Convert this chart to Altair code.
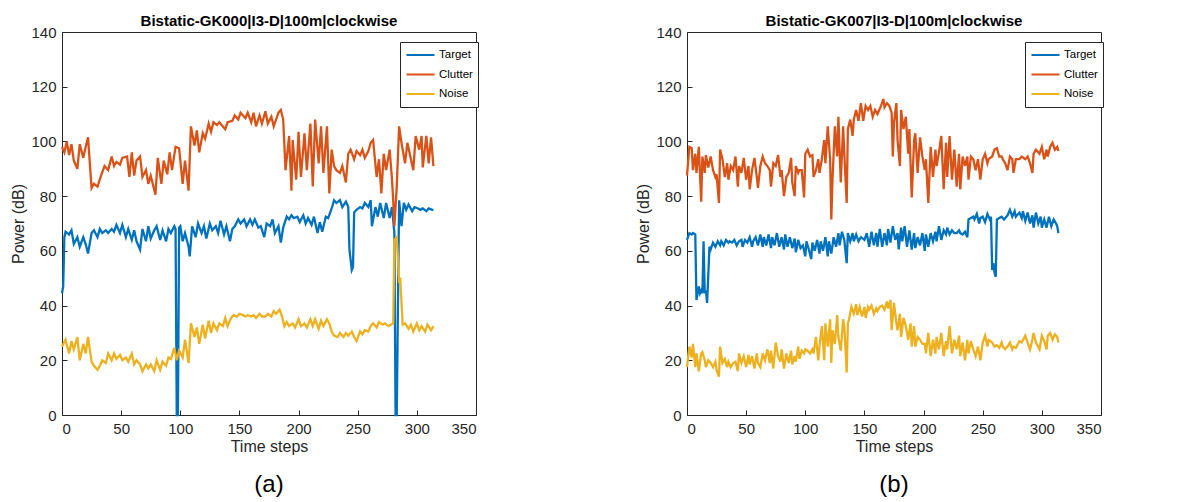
import altair as alt
import pandas as pd

# ---------------- data ----------------
series_names = ["Target", "Clutter", "Noise"]
series_colors = ["#0072BD", "#D95319", "#EDB120"]
x_ticks = [0, 50, 100, 150, 200, 250, 300, 350]
y_ticks = [0, 20, 40, 60, 80, 100, 120, 140]
panel_titles = ["Bistatic-GK000|I3-D|100m|clockwise", "Bistatic-GK007|I3-D|100m|clockwise"]
panel_captions = ["(a)", "(b)"]

# panel (a): (time step, power dB)
a_target = [(0,44.5),(1,47),(2,65),(3,67),(6,66),(8,67.5),(10,62.5),(13,65),(15,61.5),(18,65),(20,62.5),(22,59),(25,66.5),(27,67.5),(30,65),(32,68),(34,66.5),(37,67.5),(39,66.5),(42,68),(44,67),(46,69.5),(49,66.5),(51,69.5),(54,65),(56,68),(59,64),(61,67.5),(63,63.5),(66,60.5),(68,68),(71,63.5),(73,69),(75,64.5),(78,67.5),(80,69),(83,64),(85,67.5),(88,63.5),(90,68),(92,66.5),(95,69),(96,68),(97,0),(98,0),(99,68.5),(100,69),(102,63.5),(104,66.5),(107,61.5),(108,58),(110,69),(113,65),(115,70),(118,66.5),(120,69),(122,64.5),(125,70),(127,67.5),(130,69),(132,66.5),(134,71),(137,66),(139,69),(142,63.5),(144,68),(146,69),(149,71.5),(151,70),(154,71.5),(156,69),(159,71.5),(161,69.5),(163,71.5),(166,68.5),(168,69),(171,65),(173,70),(176,69),(178,71.5),(180,66.5),(183,69),(185,63),(187,68.5),(190,72.5),(192,71.5),(194,73),(196,72),(199,72.5),(201,70.5),(204,73),(206,70),(208,72),(211,69.5),(213,72.5),(216,66.5),(218,70.5),(220,67),(223,72.5),(225,72),(228,75.5),(230,78.5),(232,77.5),(235,78.5),(237,76),(240,78),(242,76),(243,60.5),(245,53),(246,54),(247,74),(249,75),(252,76),(254,75.5),(256,77.5),(259,76),(261,78.5),(262,69),(265,76),(267,72.5),(269,77.5),(272,72),(274,77.5),(277,72),(279,76),(281,66.5),(282,0),(283,0),(285,78.5),(287,69),(289,77.5),(291,75),(293,77),(296,74.5),(298,76),(301,75.5),(303,75),(305,75.5),(308,74.5),(310,75.5),(313,75),(314,75)]
a_clutter = [(0,98),(2,96),(4,100),(6,95),(8,99),(10,93),(13,90),(15,99),(18,94),(20,98),(22,101.5),(25,83),(27,84.5),(30,83.5),(33,87.5),(36,91),(39,89.5),(42,94.5),(44,91),(46,92.5),(49,91.5),(51,94),(55,94.5),(57,87),(59,96),(61,87.5),(63,93),(66,94.5),(68,87),(71,89.5),(73,84.5),(75,87.5),(79,80.5),(81,94),(84,84.5),(86,93),(89,88),(91,96),(93,89.5),(96,98),(99,97.5),(102,84.5),(104,93),(107,82),(109,105.5),(112,98.5),(114,104),(116,96),(119,103),(121,101),(124,106.5),(126,103.5),(128,107),(131,106),(133,107),(136,105.5),(138,104.5),(140,107),(144,107.5),(146,109.5),(149,108),(151,110.5),(155,108.5),(157,110.5),(160,107),(162,110.5),(164,105.5),(167,109.5),(169,106.5),(172,111),(174,106.5),(177,109),(179,105.5),(183,110.5),(185,111.5),(187,108),(189,89.5),(192,102),(194,82),(195,100.5),(198,86),(200,103.5),(202,87),(205,103),(207,89.5),(210,106.5),(212,83.5),(214,108),(217,92),(219,105.5),(221,88.5),(224,105.5),(226,81),(228,97),(230,91),(232,89.5),(235,88.5),(237,91),(240,85),(242,95.5),(244,97),(247,93.5),(249,96.5),(252,95),(254,97),(256,94),(259,96.5),(261,99.5),(263,100.5),(266,87),(268,93.5),(270,81),(272,95.5),(274,89.5),(277,97),(279,86),(280,78.5),(281,69),(283,83.5),(285,105.5),(287,99.5),(290,92),(292,99.5),(295,93.5),(297,89.5),(299,102),(302,97),(304,102),(305,90.5),(308,102),(310,92),(312,101.5),(314,91)]
a_noise = [(0,25),(3,27.5),(6,22.5),(8,27),(10,24),(13,28.5),(15,20),(18,26),(20,22.5),(22,28.5),(25,19.5),(27,18),(30,16.5),(32,18),(34,20),(37,19),(39,22.5),(42,20),(44,22.5),(46,20.5),(49,22),(51,20),(54,21),(56,19.5),(59,22.5),(61,18.5),(63,20),(66,18.5),(68,16),(71,18.5),(73,17),(75,18.5),(78,16),(80,20),(83,16.5),(85,19.5),(88,18),(90,21),(92,20.5),(95,24.5),(97,20),(99,23.5),(102,21),(104,27.5),(107,19),(109,33.5),(112,28.5),(114,32),(116,26),(119,33),(121,28),(124,34.5),(126,30),(128,33.5),(131,31),(133,33.5),(136,32.5),(138,35.5),(140,32.5),(143,35.5),(145,36.5),(148,36),(150,37),(153,36.5),(155,36),(157,36.5),(160,36),(162,36.5),(164,35.5),(167,37),(169,36),(172,36),(174,37),(177,36),(179,38),(181,37),(184,38.5),(186,36),(188,32.5),(190,34),(192,32.5),(195,33.5),(197,32),(200,35),(202,32.5),(205,33.5),(207,32),(210,35),(212,32.5),(214,35),(217,31.5),(219,34.5),(221,32.5),(224,35),(226,33.5),(228,30.5),(230,29),(233,28.5),(235,30),(238,28.5),(240,30),(242,29),(245,30.5),(247,28.5),(249,27),(252,30.5),(254,29.5),(256,31),(259,30.5),(261,32.5),(263,33.5),(266,32),(268,34),(271,33),(273,33.5),(276,32.5),(278,33),(280,33.5),(281,64),(283,65),(285,49),(286,49.5),(288,33),(290,33.5),(293,31.5),(295,33),(297,30.5),(300,33.5),(302,31),(304,32.5),(307,30.5),(309,33),(312,31),(314,32.5)]

# panel (b): (time step, power dB)
b_target = [(0,64),(2,66.5),(4,66),(5,66.5),(7,66),(8,42),(10,47),(11,44.5),(12,45.5),(13,44.5),(14,63.5),(15,44.5),(16,45.5),(17,41),(19,61.5),(20,60.5),(22,63),(24,61.5),(26,63.5),(28,62),(29,63.5),(31,62),(33,64),(35,63),(36,63.5),(38,63),(40,64),(42,62),(44,63.5),(46,64),(47,61.5),(49,64),(51,63),(53,65),(55,61.5),(56,63.5),(58,65),(60,62),(62,66),(64,61.5),(65,65),(67,62),(69,66),(71,61),(72,65),(74,62),(76,66.5),(78,61.5),(80,65),(82,60.5),(83,66),(85,61.5),(87,65),(89,61),(91,64.5),(92,59.5),(94,64),(96,61),(98,62),(100,58),(101,63.5),(103,60.5),(105,57),(106,63),(108,60),(110,64),(112,59),(113,63.5),(115,60),(117,65),(119,58),(120,63.5),(122,59),(124,65),(126,61.5),(128,66.5),(129,62),(131,67),(133,64),(135,55.5),(136,66.5),(138,63.5),(140,66.5),(141,63.5),(143,66),(145,63.5),(147,65),(150,64),(152,66.5),(154,61.5),(156,67),(158,62),(160,66.5),(161,61.5),(163,68),(165,61.5),(167,66.5),(169,62),(170,68),(172,63),(174,69),(176,64),(178,66.5),(179,60.5),(181,68.5),(182,63.5),(184,69),(186,61.5),(188,67.5),(190,60.5),(192,66.5),(193,61),(195,65),(197,62),(199,66.5),(201,60),(202,66),(204,61.5),(206,66.5),(208,63.5),(210,67),(211,63.5),(213,69),(215,64),(217,67.5),(219,66),(220,68.5),(222,66),(224,67.5),(226,66.5),(228,66.5),(230,67.5),(231,66.5),(233,66),(235,67),(237,65),(238,71.5),(240,72),(242,72.5),(243,71.5),(245,73.5),(247,70),(248,72),(250,72.5),(252,70.5),(254,73.5),(256,71.5),(257,72.5),(258,53),(259,55.5),(260,52),(261,50.5),(262,71.5),(264,72),(266,72.5),(268,71.5),(270,72.5),(271,73),(273,75),(275,72.5),(277,74.5),(278,72.5),(281,74),(283,72),(284,74.5),(286,71),(288,74),(290,70),(292,73),(293,68.5),(295,74),(297,70),(299,72.5),(300,68.5),(302,71.5),(304,68.5),(306,72.5),(308,69),(310,71.5),(312,70),(313,69),(314,66.5)]
b_clutter = [(0,87.5),(2,98),(4,97.5),(5,89.5),(7,95.5),(8,88.5),(10,98),(12,78),(13,94.5),(15,88.5),(16,95),(18,90.5),(20,94.5),(22,89.5),(24,87),(25,88),(27,77.5),(28,97),(30,93.5),(32,87),(34,92),(35,86),(37,91),(39,89.5),(41,94.5),(43,83.5),(44,91),(46,88.5),(48,94),(50,86),(52,91),(53,82.5),(55,89.5),(57,94),(59,87),(60,83),(62,91),(64,94.5),(66,92),(68,91),(70,89.5),(71,83.5),(73,92),(75,91),(77,95),(79,87),(80,89.5),(82,80),(84,87),(86,88.5),(88,94),(89,85),(91,80),(92,91),(94,88.5),(95,89.5),(97,89.5),(99,79.5),(100,95.5),(102,97),(104,94.5),(106,95),(107,87),(109,89.5),(111,93.5),(112,88.5),(114,93.5),(116,100.5),(117,92),(119,105.5),(121,93.5),(122,71.5),(123,86),(125,105.5),(127,94.5),(128,109),(130,85),(132,105.5),(133,95.5),(135,77.5),(136,104.5),(138,108),(140,102),(141,108),(143,111.5),(145,107.5),(147,114),(149,107.5),(151,113),(153,111.5),(155,113),(157,109),(159,111.5),(161,110),(164,113),(166,115.5),(167,112.5),(169,114),(171,113),(173,110.5),(174,94.5),(175,107),(177,114),(178,100.5),(180,91),(181,111.5),(183,104.5),(185,109),(187,95.5),(188,104.5),(190,79.5),(192,100.5),(193,103),(195,88.5),(197,101.5),(199,94.5),(201,89.5),(202,93.5),(204,77.5),(206,98),(208,87),(210,97),(211,91),(213,96),(215,102),(217,82.5),(219,99.5),(220,87),(222,102),(224,86),(226,97),(228,83.5),(230,95.5),(231,82.5),(233,94.5),(235,91),(237,94.5),(238,86),(240,94.5),(242,93.5),(244,89.5),(246,93.5),(248,86),(250,93.5),(252,95.5),(254,92),(255,93.5),(258,94.5),(260,97),(262,97.5),(264,94.5),(266,94.5),(267,93.5),(269,92),(271,89.5),(273,94.5),(275,93.5),(276,88.5),(278,93.5),(281,93.5),(283,94.5),(286,93.5),(288,94.5),(290,92),(292,88.5),(293,95.5),(295,97),(298,95.5),(300,98),(302,93.5),(304,97),(305,94.5),(307,98),(309,99.5),(311,97),(313,98),(314,96.5)]
b_noise = [(0,17.5),(2,25),(4,21),(5,26),(7,17.5),(8,22.5),(10,16),(12,22.5),(13,23),(15,20),(16,17.5),(18,20),(20,19),(22,17.5),(24,19.5),(25,16.5),(27,14),(28,25),(30,19),(32,20.5),(34,17.5),(35,19.5),(37,17.5),(39,19),(41,19.5),(43,16),(44,22.5),(46,19),(48,21.5),(50,17.5),(52,22),(53,18.5),(55,21.5),(57,17),(59,22.5),(60,19),(62,17.5),(64,22.5),(66,20),(68,24),(70,19),(71,23.5),(73,17),(75,26.5),(77,21.5),(79,19.5),(80,24),(82,17),(84,22.5),(86,19),(88,23.5),(89,18.5),(91,21.5),(92,19.5),(94,25),(95,20.5),(97,23.5),(99,22.5),(100,24),(102,23.5),(104,22.5),(106,24),(107,22.5),(109,28.5),(111,20),(112,25),(114,32.5),(116,20),(117,33.5),(119,25),(121,35),(122,19),(123,31),(125,26),(127,36.5),(128,28.5),(130,23.5),(132,35),(133,32.5),(135,15.5),(136,33.5),(137,35),(139,39.5),(141,37),(143,40.5),(144,36.5),(146,39.5),(148,36),(150,39.5),(151,35.5),(153,39.5),(154,38.5),(156,40),(158,37),(160,39),(161,38),(163,39.5),(165,40),(167,38.5),(169,41.5),(170,39),(172,42),(173,31),(175,41),(177,33.5),(178,31),(180,37),(181,28.5),(183,35.5),(185,32.5),(187,27.5),(189,33.5),(190,25),(192,32.5),(193,25),(195,28.5),(197,27.5),(199,26),(201,26),(202,22.5),(204,30),(206,21.5),(208,27.5),(210,22.5),(211,28.5),(213,24),(215,30),(217,21.5),(219,27),(220,24),(222,32.5),(224,22.5),(226,27.5),(228,24),(230,29),(231,21.5),(233,26.5),(235,20),(237,27.5),(238,22.5),(240,27),(242,24),(244,21.5),(246,25),(248,20),(250,26.5),(252,29),(254,25),(255,27.5),(258,26.5),(260,25),(262,25.5),(264,24.5),(266,26.5),(267,25),(269,24),(271,25),(273,26.5),(275,24),(276,25),(278,24.5),(281,27),(283,26.5),(286,29),(288,26.5),(290,24),(292,27.5),(293,30),(295,26.5),(298,24),(300,29),(302,27),(304,24),(305,29),(307,30),(309,27.5),(311,29.5),(313,28.5),(314,26.5)]

# ---------------- chart construction ----------------
FONT = "Liberation Sans"
W, H = 414, 383
INK = "#262626"


def frame(series_list):
    rows = []
    for name, pts in zip(series_names, series_list):
        for t, v in pts:
            rows.append({"t": t, "power": v, "series": name})
    return pd.DataFrame(rows)


x_scale = alt.Scale(domain=[0, 350], nice=False, zero=False)
y_scale = alt.Scale(domain=[0, 140], nice=False, zero=False)


def panel(df, title, caption):
    lines = alt.Chart(df).mark_line(strokeWidth=2.3).encode(
        x=alt.X("t:Q", scale=x_scale,
                axis=alt.Axis(orient="bottom", values=x_ticks, title="Time steps",
                              ticks=False, grid=False, labelPadding=6, titlePadding=2)),
        y=alt.Y("power:Q", scale=y_scale,
                axis=alt.Axis(orient="left", values=y_ticks, title="Power (dB)",
                              ticks=False, grid=False, labelPadding=6, titlePadding=4)),
        color=alt.Color("series:N",
                        scale=alt.Scale(domain=series_names, range=series_colors),
                        legend=alt.Legend(title=None, orient="none", legendX=W - 76,
                                          legendY=10,
                                          symbolType="stroke", symbolSize=784,
                                          symbolStrokeWidth=2.2, clipHeight=16,
                                          labelFont=FONT, labelFontSize=11.5,
                                          labelColor="#000000", fillColor="white",
                                          strokeColor=INK, padding=5, rowPadding=3.5,
                                          labelOffset=3)),
    )
    inner_ticks = alt.Chart(df).mark_line(opacity=0).encode(
        x=alt.X("t:Q", scale=x_scale,
                axis=alt.Axis(orient="top", offset=-H, values=x_ticks, labels=False,
                              domain=False, ticks=True, tickSize=5, title=None, grid=False)),
        y=alt.Y("power:Q", scale=y_scale,
                axis=alt.Axis(orient="right", offset=-W, values=y_ticks, labels=False,
                              domain=False, ticks=True, tickSize=5, title=None, grid=False)),
    )
    cap = alt.Chart(pd.DataFrame({"caption": [caption]})).mark_text(
        font=FONT, fontSize=24, color="#000000", baseline="middle", align="center"
    ).encode(text="caption:N", x=alt.value(W / 2), y=alt.value(H + 70))
    return alt.layer(lines, inner_ticks, cap).resolve_axis(
        x="independent", y="independent"
    ).properties(
        width=W, height=H,
        title=alt.TitleParams(title, font=FONT, fontSize=15, fontWeight="bold",
                              color="#000000", anchor="middle", offset=-4),
    )


left = panel(frame([a_target, a_clutter, a_noise]), panel_titles[0], panel_captions[0])
right = panel(frame([b_target, b_clutter, b_noise]), panel_titles[1], panel_captions[1])

chart = alt.hconcat(left, right, spacing=156).resolve_scale(
    color="independent"
).resolve_legend(color="independent").properties(
    padding={"left": 2, "top": 5, "right": 2, "bottom": 0}
).configure_view(stroke=INK, strokeWidth=1).configure_axis(
    domainColor=INK, tickColor=INK, labelColor=INK, titleColor=INK,
    labelFont=FONT, titleFont=FONT, labelFontSize=15, titleFontSize=16,
    titleFontWeight="normal", domainWidth=1, tickWidth=1
)

chart.save("out.html", embed_options={"renderer": "svg", "actions": False})
